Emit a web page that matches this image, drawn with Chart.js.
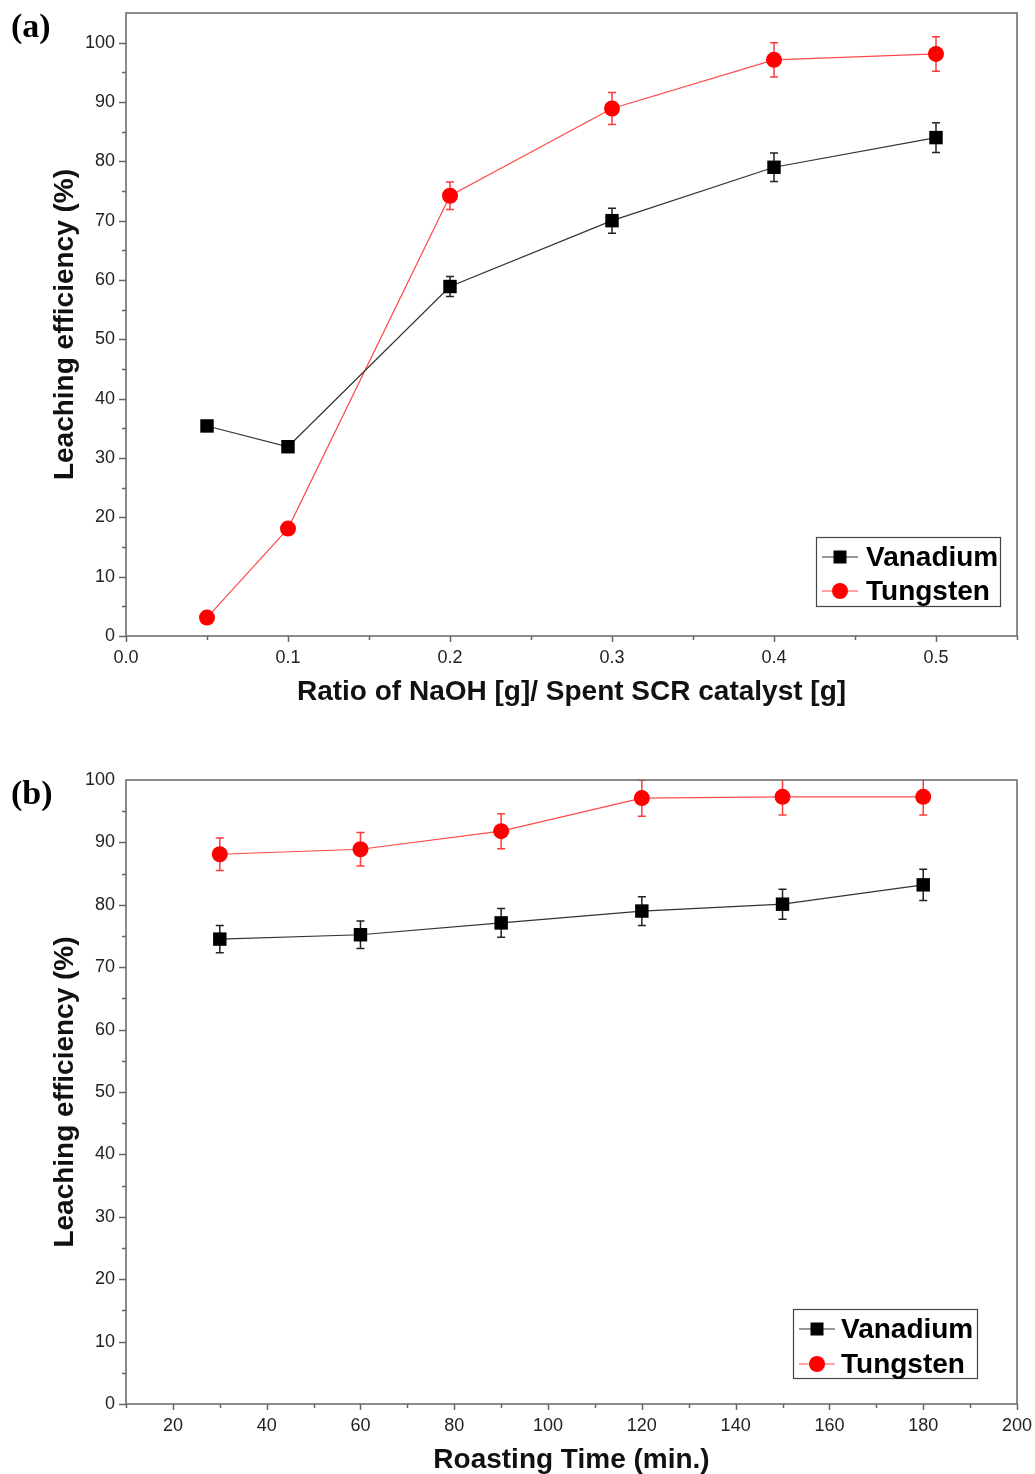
<!DOCTYPE html>
<html>
<head>
<meta charset="utf-8">
<script src="https://cdn.jsdelivr.net/npm/chart.js@4"></script>
<style>
  html, body { margin: 0; padding: 0; background: #fff; }
  body { width: 1035px; height: 1474px; position: relative; overflow: hidden; }
  .wrap { position: absolute; left: 0; }
  .panel { position: absolute; font-family: "Liberation Serif", "DejaVu Serif", serif; font-weight: bold; font-size: 34px; line-height: 40px; color: #000; }
</style>
</head>
<body>
<div class="wrap" style="top:-20px;width:1035px;height:740px;"><canvas id="cA" width="1035" height="740"></canvas></div>
<div class="wrap" style="top:720px;width:1050px;height:757px;"><canvas id="cB" width="1050" height="757"></canvas></div>
<div class="panel" style="left:11px;top:6px;">(a)</div>
<div class="panel" style="left:11px;top:773px;">(b)</div>
<script>
// ---- data ----
const catA = [0.05, 0.1, 0.2, 0.3, 0.4, 0.5];
const vanA = [35.4, 31.9, 58.9, 70.0, 79.0, 84.0];
const vanAErr = [0, 0, 1.7, 2.1, 2.4, 2.5];
const tunA = [3.1, 18.1, 74.2, 88.9, 97.1, 98.1];
const tunAErr = [0, 0, 2.3, 2.7, 2.9, 2.9];

const catB = [30, 60, 90, 120, 150, 180];
const vanB = [74.5, 75.2, 77.1, 79.0, 80.1, 83.2];
const vanBErr = [2.2, 2.2, 2.3, 2.3, 2.4, 2.5];
const tunB = [88.1, 88.9, 91.8, 97.1, 97.3, 97.3];
const tunBErr = [2.6, 2.7, 2.8, 2.9, 2.9, 2.9];

const seriesNames = ['Vanadium', 'Tungsten'];
const yTitle = 'Leaching efficiency (%)';
const xTitleA = 'Ratio of NaOH [g]/ Spent SCR catalyst [g]';
const xTitleB = 'Roasting Time (min.)';

const yLabels = [0, 10, 20, 30, 40, 50, 60, 70, 80, 90, 100];
const xLabelsA = [0.0, 0.1, 0.2, 0.3, 0.4, 0.5];
const xLabelsB = [20, 40, 60, 80, 100, 120, 140, 160, 180, 200];

// ---- helpers ----
function pts(xs, ys) { return xs.map((x, i) => ({ x: x, y: ys[i] })); }

const decoPlugin = {
  id: 'deco',
  beforeDatasetsDraw(chart) {
    const ctx = chart.ctx, ca = chart.chartArea;
    const xs = chart.scales.x, ys = chart.scales.y;
    ctx.save();
    ctx.beginPath();
    ctx.rect(ca.left, ca.top, ca.right - ca.left, ca.bottom - ca.top);
    ctx.clip();
    chart.data.datasets.forEach(ds => {
      const errs = ds.errors || [];
      ctx.strokeStyle = ds.errColor;
      ctx.lineWidth = 1.5;
      ds.data.forEach((p, i) => {
        const e = errs[i];
        if (!e) return;
        const px = xs.getPixelForValue(p.x);
        const y1 = ys.getPixelForValue(p.y + e);
        const y2 = ys.getPixelForValue(p.y - e);
        ctx.beginPath();
        ctx.moveTo(px, y1); ctx.lineTo(px, y2);
        ctx.moveTo(px - 4, y1); ctx.lineTo(px + 4, y1);
        ctx.moveTo(px - 4, y2); ctx.lineTo(px + 4, y2);
        ctx.stroke();
      });
    });
    ctx.restore();
  },
  afterDraw(chart) {
    const ctx = chart.ctx, ca = chart.chartArea;
    const o = chart.options.plugins.deco;
    const xs = chart.scales.x, ys = chart.scales.y;
    ctx.save();
    // frame
    ctx.strokeStyle = '#666';
    ctx.lineWidth = 1.5;
    ctx.strokeRect(ca.left, ca.top, ca.right - ca.left, ca.bottom - ca.top);
    // ticks
    ctx.beginPath();
    const eps = 1e-9;
    for (let k = 0; ; k++) {
      const v = ys.min + k * o.yMinor;
      if (v > ys.max - eps) break;
      const isMajor = Math.abs(v / o.yMajor - Math.round(v / o.yMajor)) < 1e-6;
      const py = Math.round(ys.getPixelForValue(v)) + 0.5;
      const len = isMajor ? 7 : 4;
      ctx.moveTo(ca.left - len, py); ctx.lineTo(ca.left, py);
    }
    for (let k = 0; ; k++) {
      const v = o.xStart + k * o.xMinor;
      if (v > xs.max + eps) break;
      const isMajor = Math.abs(v / o.xMajor - Math.round(v / o.xMajor)) < 1e-6;
      const px = Math.round(xs.getPixelForValue(v)) + 0.5;
      const len = isMajor ? 6 : 4;
      ctx.moveTo(px, ca.bottom); ctx.lineTo(px, ca.bottom + len);
    }
    ctx.stroke();
    // legend
    const L = o.legend;
    const bx = ca.right - L.right - L.w, by = ca.bottom - L.bottom - L.h;
    ctx.fillStyle = '#fff';
    ctx.fillRect(bx, by, L.w, L.h);
    ctx.strokeStyle = '#444';
    ctx.lineWidth = 1.2;
    ctx.strokeRect(bx + 0.5, by + 0.5, L.w, L.h);
    chart.data.datasets.forEach((ds, i) => {
      const ry = by + L.row0 + i * L.rowGap;
      ctx.strokeStyle = ds.borderColor;
      ctx.lineWidth = 1.2;
      ctx.beginPath();
      ctx.moveTo(bx + 6, ry); ctx.lineTo(bx + L.mx * 2 - 6, ry);
      ctx.stroke();
      ctx.fillStyle = ds.pointBackgroundColor;
      if (ds.pointStyle === 'rect') {
        ctx.fillRect(bx + L.mx - 6.5, ry - 6.5, 13, 13);
      } else {
        ctx.beginPath();
        ctx.arc(bx + L.mx, ry, 8, 0, Math.PI * 2);
        ctx.fill();
      }
      ctx.fillStyle = '#000';
      ctx.font = 'bold 28px "Liberation Sans", Arial, sans-serif';
      ctx.textBaseline = 'middle';
      ctx.textAlign = 'left';
      ctx.fillText(ds.label, bx + L.tx, ry + 1);
    });
    ctx.restore();
  }
};

function makeChart(id, cats, v, vErr, t, tErr, xcfg, xTitle, layoutPad, xHeight, legend, yMax) {
  return new Chart(document.getElementById(id), {
    type: 'line',
    data: {
      datasets: [
        {
          label: seriesNames[0], data: pts(cats, v), errors: vErr, errColor: '#222',
          borderColor: '#333', borderWidth: 1.2, pointStyle: 'rect', pointRadius: 9.5,
          pointBackgroundColor: '#000', pointBorderColor: '#000', pointBorderWidth: 0,
          tension: 0, fill: false
        },
        {
          label: seriesNames[1], data: pts(cats, t), errors: tErr, errColor: '#ff3a3a',
          borderColor: '#ff4a4a', borderWidth: 1.2, pointStyle: 'circle', pointRadius: 8,
          pointBackgroundColor: '#ff0000', pointBorderColor: '#ff0000', pointBorderWidth: 0,
          tension: 0, fill: false
        }
      ]
    },
    options: {
      responsive: false, animation: false, devicePixelRatio: 1,
      layout: { padding: layoutPad },
      plugins: {
        legend: { display: false }, tooltip: { enabled: false },
        deco: { yMinor: 5, yMajor: 10, xMinor: xcfg.minor, xMajor: xcfg.major, xStart: xcfg.start, legend: legend }
      },
      scales: {
        x: {
          type: 'linear', min: xcfg.min, max: xcfg.max,
          grid: { display: false, drawTicks: false },
          border: { display: false },
          afterFit(s) { s.height = xHeight; },
          afterBuildTicks(s) {
            s.ticks = xcfg.labels.map(val => ({ value: val }));
          },
          ticks: {
            padding: 11, color: '#222', maxRotation: 0, autoSkip: false,
            font: { family: '"Liberation Sans", Arial, sans-serif', size: 18 },
            callback: xcfg.fmt
          },
          title: {
            display: true, text: xTitle, color: '#111',
            font: { family: '"Liberation Sans", Arial, sans-serif', size: 28, weight: 'bold' },
            padding: { top: 0, bottom: xcfg.titlePad }
          }
        },
        y: {
          type: 'linear', min: 0, max: yMax,
          grid: { display: false, drawTicks: false },
          border: { display: false },
          afterFit(s) { s.width = 78; },
          afterBuildTicks(s) {
            s.ticks = yLabels.map(val => ({ value: val }));
          },
          ticks: {
            padding: 11, color: '#222',
            font: { family: '"Liberation Sans", Arial, sans-serif', size: 18 }
          },
          title: {
            display: true, text: yTitle, color: '#111',
            font: { family: '"Liberation Sans", Arial, sans-serif', size: 28, weight: 'bold' },
            padding: 0
          }
        }
      }
    },
    plugins: [decoPlugin]
  });
}

makeChart('cA', catA, vanA, vanAErr, tunA, tunAErr,
  { min: 0, max: 0.55, minor: 0.05, major: 0.1, start: 0, labels: xLabelsA, fmt: v => Number(v).toFixed(1), titlePad: 11 },
  xTitleA, { top: 33, right: 18, left: 48, bottom: 0 }, 84,
  { w: 184, h: 69, right: 17, bottom: 30, row0: 20, rowGap: 34, mx: 24, tx: 50 }, 105);

makeChart('cB', catB, vanB, vanBErr, tunB, tunBErr,
  { min: 10, max: 200, minor: 10, major: 20, start: 10, labels: xLabelsB, fmt: v => String(v), titlePad: 0 },
  xTitleB, { top: 60, right: 33, left: 48, bottom: 0 }, 73,
  { w: 184, h: 69, right: 40, bottom: 26, row0: 20, rowGap: 35, mx: 24, tx: 48 }, 100);
</script>
</body>
</html>
